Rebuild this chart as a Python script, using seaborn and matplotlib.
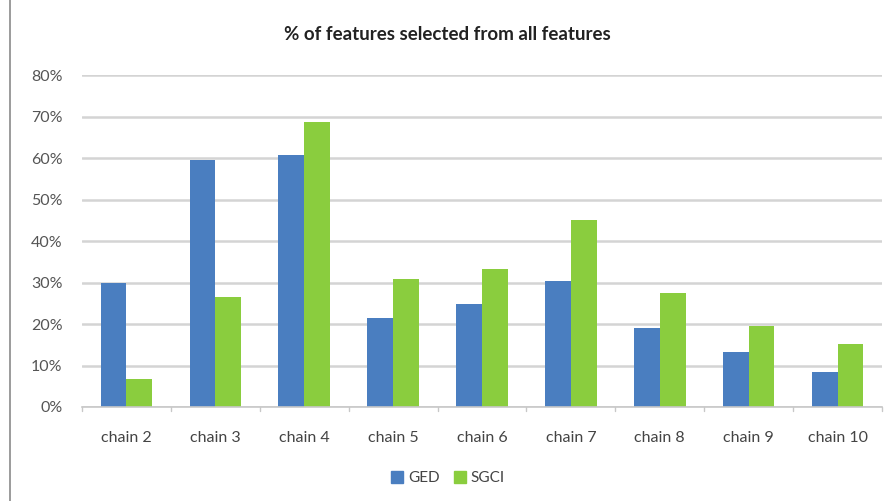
import matplotlib
matplotlib.use("Agg")
import matplotlib.pyplot as plt
import seaborn as sns
import pandas as pd
from matplotlib.lines import Line2D
from matplotlib.ticker import FuncFormatter, FixedLocator

categories = ["chain 2", "chain 3", "chain 4", "chain 5", "chain 6",
              "chain 7", "chain 8", "chain 9", "chain 10"]
ged = [29.8, 59.4, 60.7, 21.4, 24.7, 30.4, 19.0, 13.2, 8.5]
sgci = [6.7, 26.4, 68.7, 30.8, 33.3, 45.1, 27.4, 19.4, 15.3]
series = ["GED", "SGCI"]
colors = ["#4A7EC0", "#8ACD3E"]
title = "% of features selected from all features"

df = pd.DataFrame({
    "category": categories * 2,
    "value": ged + sgci,
    "series": [series[0]] * len(categories) + [series[1]] * len(categories),
})

sns.set_theme(style="white")
plt.rcParams["font.family"] = ["Lato", "DejaVu Sans"]

fig = plt.figure(figsize=(8.94, 5.01), dpi=100)
ax = fig.add_axes([82 / 894, 1 - 407 / 501, 800 / 894, 332 / 501])

sns.barplot(data=df, x="category", y="value", hue="series",
            palette=colors, width=0.58, saturation=1, ax=ax, legend=False,
            linewidth=0, edgecolor="none")

ax.set_ylim(0, 80)
ax.set_xlim(-0.5, len(categories) - 0.5)
ax.yaxis.set_major_locator(FixedLocator(range(0, 81, 10)))
ax.yaxis.set_major_formatter(FuncFormatter(lambda v, p: f"{int(v)}%"))
ax.grid(axis="y", color="#D4D4D4", linewidth=1.8)
ax.set_axisbelow(True)
for s in ["left", "right", "top"]:
    ax.spines[s].set_visible(False)
ax.spines["bottom"].set_color("#C8C8C8")
ax.spines["bottom"].set_linewidth(1.2)
ax.set_xlabel("")
ax.set_ylabel("")
ax.tick_params(axis="y", labelsize=11.5, labelcolor="#555555", length=0, pad=14)
ax.tick_params(axis="x", labelsize=11.5, labelcolor="#444444", length=0, pad=17)

# category separator ticks on the x axis
for i in range(len(categories) + 1):
    ax.plot([i - 0.5, i - 0.5], [0, -0.9], color="#C8C8C8", lw=1, clip_on=False)

fig.text(0.5, 1 - 34 / 501, title, ha="center", va="center",
         fontsize=13.5, fontweight="bold", color="#222222")

handles = [Line2D([0], [0], marker="s", linestyle="", markersize=8,
                  markerfacecolor=c, markeredgecolor=c) for c in colors]
fig.legend(handles, series, loc="center", bbox_to_anchor=(0.5, 1 - 478 / 501),
           ncol=2, frameon=False, fontsize=11, handletextpad=0.25,
           columnspacing=0.8, handlelength=1.0, labelcolor="#444444")

fig.add_artist(Line2D([10 / 894, 10 / 894], [0, 1], color="#8A8A8A", lw=1.2))

fig.savefig("out.png", dpi=100, facecolor="white")
